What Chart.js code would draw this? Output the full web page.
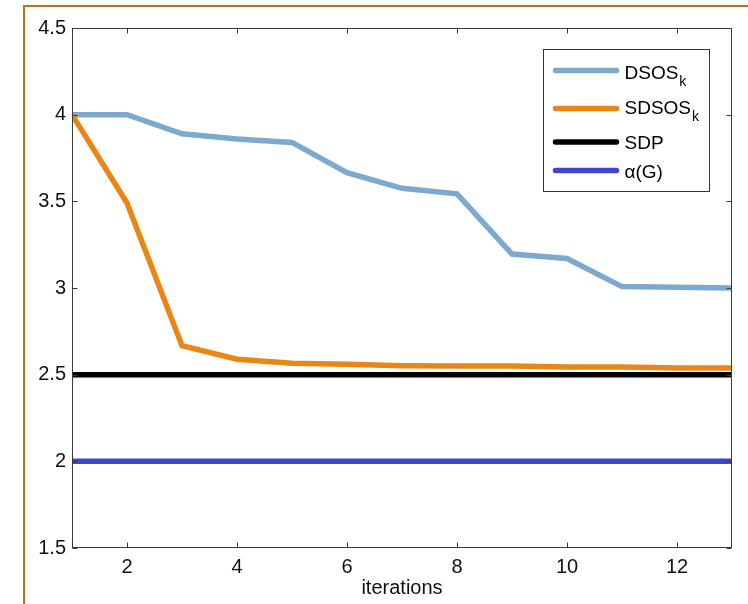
<!DOCTYPE html>
<html>
<head>
<meta charset="utf-8">
<script src="https://cdn.jsdelivr.net/npm/chart.js@4/dist/chart.umd.min.js"></script>
<style>
  html, body { margin: 0; padding: 0; background: #fff; }
  #wrap { width: 748px; height: 604px; position: relative; }
</style>
</head>
<body>
<div id="wrap"><canvas id="c" width="748" height="604"></canvas></div>
<script>
// ---- data ----
const iterations = [1, 2, 3, 4, 5, 6, 7, 8, 9, 10, 11, 12, 13];
const dsos  = [4.00, 4.00, 3.89, 3.86, 3.84, 3.665, 3.575, 3.543, 3.196, 3.17, 3.008, 3.004, 3.00];
const sdsos = [4.00, 3.49, 2.667, 2.589, 2.566, 2.56, 2.552, 2.55, 2.55, 2.544, 2.544, 2.539, 2.538];
const sdp   = [2.5, 2.5, 2.5, 2.5, 2.5, 2.5, 2.5, 2.5, 2.5, 2.5, 2.5, 2.5, 2.5];
const alphaG = [2, 2, 2, 2, 2, 2, 2, 2, 2, 2, 2, 2, 2];
const seriesNames = ['DSOS', 'SDSOS', 'SDP', 'α(G)'];
const seriesSubs  = ['k', 'k', '', ''];
const seriesColors = ['rgb(125,169,206)', 'rgb(232,135,24)', '#000000', 'rgb(64,70,204)'];
const xTicks = [2, 4, 6, 8, 10, 12];
const yTicks = [1.5, 2, 2.5, 3, 3.5, 4, 4.5];
const xTitle = 'iterations';

const FONT = '"Liberation Sans", Arial, sans-serif';

function toXY(vals) { return iterations.map((x, i) => ({ x: x, y: vals[i] })); }

const allSeries = [dsos, sdsos, sdp, alphaG];

const framePlugin = {
  id: 'frame',
  beforeDraw(chart) {
    const ctx = chart.ctx;
    ctx.save();
    ctx.strokeStyle = 'rgb(190,112,32)';
    ctx.lineWidth = 2;
    ctx.beginPath();
    ctx.moveTo(24, 604);
    ctx.lineTo(24, 6);
    ctx.lineTo(748, 6);
    ctx.stroke();
    ctx.restore();
  },
  afterDraw(chart) {
    const ctx = chart.ctx;
    const a = chart.chartArea;
    const xs = chart.scales.x, ys = chart.scales.y;
    const L = Math.round(a.left) + 0.5, R = Math.round(a.right) - 0.5;
    const T = Math.round(a.top) + 0.5, B = Math.round(a.bottom) - 0.5;
    ctx.save();
    ctx.lineWidth = 1;
    ctx.strokeStyle = '#3a3a3a';
    ctx.strokeRect(L, T, R - L, B - T);
    const tl = 5;
    ctx.beginPath();
    xTicks.forEach(v => {
      const px = Math.round(xs.getPixelForValue(v)) + 0.5;
      ctx.moveTo(px, B); ctx.lineTo(px, B - tl);
      ctx.moveTo(px, T); ctx.lineTo(px, T + tl);
    });
    yTicks.forEach(v => {
      const py = Math.round(ys.getPixelForValue(v)) + 0.5;
      ctx.moveTo(L, py); ctx.lineTo(L + tl, py);
      ctx.moveTo(R, py); ctx.lineTo(R - tl, py);
    });
    ctx.stroke();

    // legend
    const bx = Math.round(a.right) - 189 + 0.5;
    const by = Math.round(a.top) + 21 + 0.5;
    const bw = 166, bh = 142;
    ctx.fillStyle = '#fff';
    ctx.fillRect(bx, by, bw, bh);
    ctx.strokeStyle = '#333';
    ctx.strokeRect(bx, by, bw, bh);
    const lineY = [21, 59, 92.5, 121];
    const baseY = [29, 64.5, 99.5, 128];
    ctx.lineCap = 'round';
    ctx.lineWidth = 5.5;
    for (let i = 0; i < seriesNames.length; i++) {
      ctx.strokeStyle = seriesColors[i];
      ctx.beginPath();
      ctx.moveTo(bx + 12, by + lineY[i]);
      ctx.lineTo(bx + 73, by + lineY[i]);
      ctx.stroke();
      ctx.fillStyle = '#000';
      ctx.font = '19px ' + FONT;
      ctx.textBaseline = 'alphabetic';
      ctx.textAlign = 'left';
      const tx = bx + 81;
      ctx.fillText(seriesNames[i], tx, by + baseY[i]);
      if (seriesSubs[i]) {
        const w = ctx.measureText(seriesNames[i]).width;
        ctx.font = '14px ' + FONT;
        ctx.fillText(seriesSubs[i], tx + w + 1, by + baseY[i] + 7);
      }
    }
    ctx.restore();
  }
};

new Chart(document.getElementById('c'), {
  type: 'line',
  data: {
    datasets: allSeries.map((vals, i) => ({
      label: seriesNames[i],
      data: toXY(vals),
      borderColor: seriesColors[i],
      backgroundColor: seriesColors[i],
      borderWidth: 5.5,
      pointRadius: 0,
      tension: 0,
      fill: false,
      order: allSeries.length - i
    }))
  },
  options: {
    responsive: false,
    animation: false,
    devicePixelRatio: 1,
    layout: { padding: { top: 28, right: 16, left: 0, bottom: 0 } },
    plugins: { legend: { display: false }, tooltip: { enabled: false } },
    scales: {
      x: {
        type: 'linear',
        min: 1, max: 13,
        afterBuildTicks(s) { s.ticks = xTicks.map(v => ({ value: v })); },
        afterFit(s) { s.height = 56; },
        grid: { display: false, drawTicks: false },
        border: { display: false },
        ticks: {
          padding: 7,
          color: '#111',
          font: { family: FONT, size: 20 },
          callback: v => String(v),
          maxRotation: 0
        },
        title: {
          display: true,
          text: xTitle,
          color: '#111',
          font: { family: FONT, size: 20 },
          padding: { top: 0, bottom: 4 }
        }
      },
      y: {
        type: 'linear',
        min: 1.5, max: 4.5,
        afterBuildTicks(s) { s.ticks = yTicks.map(v => ({ value: v })); },
        afterFit(s) { s.width = 72; },
        grid: { display: false, drawTicks: false },
        border: { display: false },
        ticks: {
          padding: 6,
          color: '#111',
          font: { family: FONT, size: 20 },
          callback: v => String(v)
        }
      }
    }
  },
  plugins: [framePlugin]
});
</script>
</body>
</html>
